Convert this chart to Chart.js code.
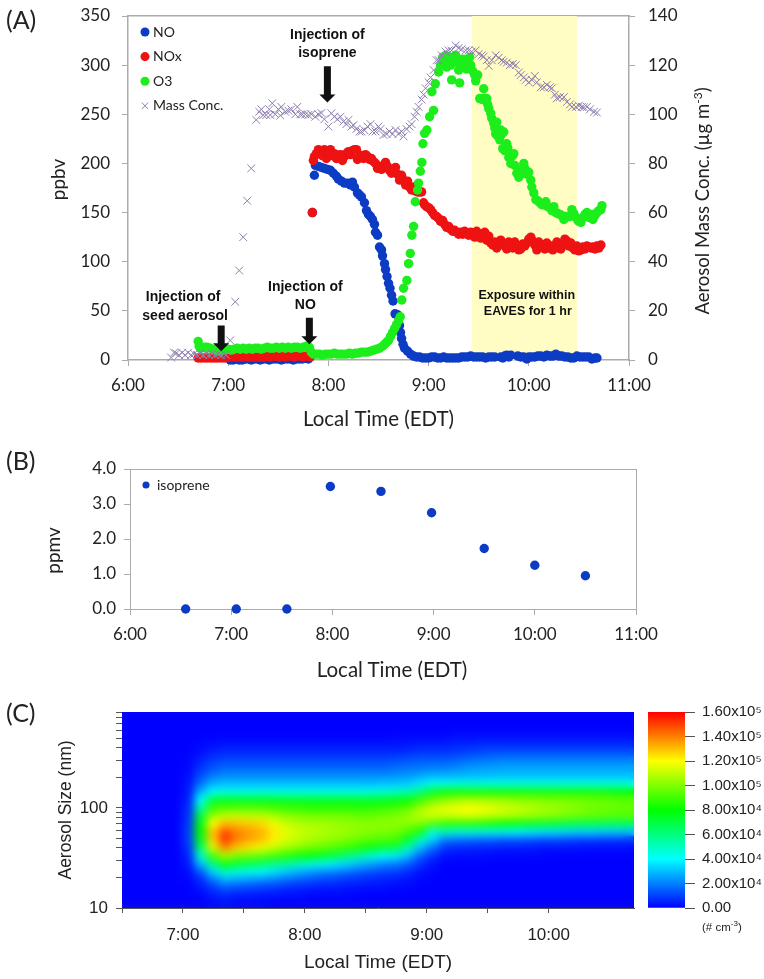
<!DOCTYPE html>
<html>
<head>
<meta charset="utf-8">
<title>Chamber experiment</title>
<script src="https://cdn.jsdelivr.net/npm/chart.js@4/dist/chart.umd.js"></script>
<style>
  html, body { margin: 0; padding: 0; background: #fff; }
  #page { position: relative; width: 764px; height: 979px; overflow: hidden; }
  canvas { position: absolute; }
  .panel { position: absolute; left: 6px; font: 25px Lato, sans-serif; color: #222; }
  .vtitle { position: absolute; width: 300px; margin-left: -150px; margin-top: -12px; line-height: 24px; text-align: center; color: #222; white-space: nowrap;
    font: 19px Lato, sans-serif; transform: rotate(-90deg); }
  .vtitle sup { font-size: 12px; line-height: 0; }
  #timeB { position: absolute; left: 242px; top: 657px; width: 300px; text-align: center; font: 20.5px Lato, sans-serif; color: #222; }
  #unitLabel { position: absolute; left: 702px; top: 921px; font: 11.5px "Liberation Sans", sans-serif; color: #222; }
  #unitLabel sup { font-size: 8px; line-height: 0; }
</style>
</head>
<body>
<div id="page">
  <canvas id="chartA" style="left:0;top:0" width="764" height="445"></canvas>
  <canvas id="chartB" style="left:0;top:445px" width="764" height="255"></canvas>
  <canvas id="chartC" style="left:0;top:700px" width="640" height="279"></canvas>
  <canvas id="chartBar" style="left:640px;top:700px" width="124" height="279"></canvas>
  <div class="panel" style="top:4px">(A)</div>
  <div class="panel" style="top:445px">(B)</div>
  <div class="panel" style="top:697px">(C)</div>
  <div class="vtitle" style="left:57px;top:180px">ppbv</div>
  <div class="vtitle" style="left:52px;top:551px">ppmv</div>
  <div class="vtitle" style="left:702px;top:202px;font-size:18.5px">Aerosol Mass Conc. (µg m<sup>-3</sup>)</div>
  <div id="timeB">Local Time (EDT)</div>
  <div id="unitLabel">(# cm<sup>-3</sup>)</div>
</div>
<script>
// panel A, times in decimal hours
var noTimes = [7.02,7.05,7.08,7.11,7.14,7.17,7.20,7.23,7.26,7.29,7.32,7.35,7.38,7.41,7.44,7.47,7.50,7.53,7.56,7.59,7.62,7.65,7.68,7.71,7.74,7.77,7.80,
  7.84,7.86,7.87,7.90,7.93,7.96,7.99,8.02,8.05,8.08,8.10,8.13,8.16,8.19,8.22,8.24,8.26,8.29,8.31,8.33,8.36,8.38,8.40,8.42,8.44,8.46,8.47,8.49,8.51,8.53,8.54,8.56,8.57,8.585,8.60,8.615,8.63,8.645,8.665,8.69,8.71,8.72,8.73,8.745,8.76,8.79,8.82,8.85,8.88,8.91,8.94,8.97,
  9.00,9.03,9.06,9.09,9.12,9.15,9.18,9.21,9.24,9.27,9.30,9.33,9.36,9.39,9.42,9.45,9.48,9.51,9.54,9.57,9.60,9.63,9.66,
  9.72,9.74,9.76,9.78,9.80,9.82,9.89,9.92,9.95,9.98,10.00,10.03,10.06,10.09,10.12,10.15,10.18,10.21,10.24,10.27,10.30,10.33,10.36,10.39,10.42,10.45,10.48,10.51,10.54,10.57,10.60,10.63,10.66,10.68];
var noValues = [0,0,1,0,0,1,1,0,1,1,0,1,1,0,1,1,1,0,1,1,1,0,1,1,1,2,1,
  150,188,198,197,196,195,194,193,190,187,184,182,180,180,178,181,176,170,168,166,160,152,148,146,143,138,130,127,115,112,106,98,92,85,78,73,66,60,47,46,35,28,22,16,12,9,6,4,3,3,2,2,
  2,3,3,2,2,3,2,2,2,2,2,3,3,3,4,3,3,3,3,2,3,3,3,
  3,2,4,5,3,5,4,3,3,1,3,3,3,4,4,3,5,4,4,6,4,4,3,3,2,2,4,3,3,3,3,1,2,2];

var noxTimes = [6.70,6.73,6.76,6.79,6.82,6.85,6.88,6.91,6.94,6.97,7.00,7.03,7.06,7.09,7.12,7.15,7.18,7.21,7.24,7.27,7.30,7.33,7.36,7.39,7.42,7.45,7.48,7.51,7.54,7.57,7.60,7.63,7.66,7.69,7.72,7.75,7.78,7.82,
  7.84,7.85,7.86,7.88,7.90,7.92,7.94,7.96,7.98,8.00,8.02,8.04,8.06,8.08,8.10,8.12,8.14,8.16,8.18,8.20,8.22,8.24,8.26,8.28,8.29,8.31,8.33,8.35,8.37,8.39,8.41,8.43,8.45,8.47,8.49,8.51,8.53,8.55,8.57,8.59,8.61,8.63,8.65,8.67,8.69,8.71,8.73,8.75,8.77,8.79,8.81,8.83,8.85,8.87,8.89,8.91,8.93,
  8.95,8.96,8.98,9.00,9.02,9.04,9.06,9.08,9.10,9.12,9.14,9.16,9.18,9.20,9.22,9.24,9.26,9.28,9.30,9.32,9.34,9.36,9.38,9.40,9.42,9.44,9.46,9.48,9.50,9.52,9.54,9.56,9.58,9.60,9.62,9.64,9.66,9.68,9.70,9.72,9.74,9.76,9.78,9.80,9.82,9.84,9.86,9.88,9.90,9.92,9.94,9.96,9.98,
  10.00,10.02,10.04,10.06,10.08,10.10,10.12,10.14,10.16,10.18,10.20,10.22,10.24,10.26,10.28,10.30,10.32,10.34,10.36,10.38,10.40,10.42,10.44,10.46,10.48,10.50,10.52,10.54,10.56,10.58,10.60,10.62,10.64,10.66,10.68,10.70,10.72];
var noxValues = [2,2,2,2,2,2,2,2,2,2,3,3,3,3,3,3,3,3,3,3,3,3,3,4,3,4,4,3,4,3,4,4,3,4,4,3,4,3,
  150,203,207,210,214,212,208,214,205,212,214,208,210,205,208,209,203,207,210,212,209,213,214,214,204,207,208,205,209,207,204,205,202,200,195,197,194,198,201,197,193,190,193,196,189,183,188,183,178,182,176,173,176,172,171,171,171,
  160,158,156,155,153,150,147,146,144,141,142,138,135,136,133,131,132,130,128,130,128,131,129,127,130,129,125,131,128,124,128,130,122,126,119,117,120,114,118,122,117,118,113,120,118,114,120,116,112,113,118,116,119,
  123,125,121,117,112,120,117,115,113,119,114,116,112,116,120,114,113,118,123,121,116,119,114,112,116,111,112,115,113,116,115,114,115,113,116,114,117];

var o3Times = [6.70,6.71,6.73,6.76,6.79,6.82,6.85,6.88,6.91,6.94,6.97,7.00,7.03,7.06,7.09,7.12,7.15,7.18,7.21,7.24,7.27,7.30,7.33,7.36,7.39,7.42,7.45,7.48,7.51,7.54,7.57,7.60,7.63,7.66,7.69,7.72,7.75,7.78,7.81,
  7.83,7.85,7.88,7.91,7.94,7.97,8.00,8.03,8.06,8.09,8.12,8.15,8.18,8.21,8.24,8.27,8.30,8.33,8.36,8.39,8.42,8.45,8.48,8.51,8.54,8.56,8.58,8.60,8.62,8.64,8.66,8.68,8.70,8.717,
  8.733,8.75,8.783,8.80,8.817,8.833,8.85,8.867,8.89,8.90,8.917,8.933,8.943,8.96,8.983,9.01,9.033,9.05,9.067,9.10,
  9.12,9.14,9.15,9.17,9.18,9.20,9.22,9.23,9.25,9.27,9.28,9.30,9.31,9.33,9.34,9.36,9.38,9.39,9.41,9.42,9.44,9.46,9.47,9.49,9.51,9.52,9.535,9.55,9.56,9.58,9.59,9.60,9.62,9.63,9.65,9.66,9.67,9.68,9.69,9.71,9.72,9.73,9.74,9.75,9.76,9.78,9.79,9.80,9.82,9.84,9.85,9.86,9.88,9.90,9.91,9.93,9.95,9.96,9.98,
  10.00,10.02,10.03,10.05,10.07,10.09,10.11,10.13,10.15,10.17,10.19,10.21,10.23,10.25,10.27,10.29,10.31,10.33,10.35,10.37,10.39,10.41,10.43,10.45,10.47,10.49,10.50,10.52,10.54,10.56,10.58,10.60,10.62,10.64,10.66,10.68,10.70,10.72,10.73];
var o3Values = [19,14,12,13,13,12,11,10,9,10,11,11,10,11,12,11,12,11,12,11,12,12,11,12,13,12,12,13,12,13,12,13,12,13,13,12,13,14,13,
  8,6,6,6,5,6,6,6,7,6,6,6,6,7,6,7,7,8,8,8,9,10,11,12,14,16,18,20,24,28,32,36,40,44,
  61,73,81,98,108.5,127,136,161,173,180,192,201,220,230.6,234,247.5,273,254,281,293,
  300,308,304,310,298,308,300,285,305,310,303,295,282,298,306,303,296,306,308,300,294,290,284,290,266,266,265,276,266,266,260,256,251,246,241,236,230,242,228,224,234,230,215,232,213,220,216,206,200,208,210,198,190,186,188,194,200,195,189,
  191,183,176,170,163,162,160,158,158,161,156,155,152,156,150,149,148,147,143,146,146,146,153,149,145,142,141,140,145,148,150,145,148,143,147,150,152,153,157];

var massTimes = [6.43,6.46,6.48,6.51,6.54,6.57,6.60,6.63,6.66,6.69,6.72,6.75,6.78,6.81,6.84,6.87,6.90,6.93,6.96,6.98,7.02,7.07,7.11,7.15,7.19,7.23,7.28,7.31,7.33,7.35,7.38,7.41,7.42,7.44,
  7.47,7.50,7.52,7.53,7.57,7.60,7.63,7.67,7.69,7.72,7.74,7.77,7.80,7.83,7.87,7.90,7.93,7.96,8.00,8.03,8.06,8.09,8.12,8.15,8.18,8.20,8.23,8.25,8.28,8.31,8.33,8.36,8.39,8.42,8.44,8.47,8.50,8.52,8.55,8.58,8.61,8.64,8.67,8.70,8.73,8.75,8.78,8.81,8.83,8.86,8.88,8.90,8.93,8.95,8.97,
  9.00,9.02,9.05,9.08,9.10,9.13,9.17,9.20,9.23,9.27,9.30,9.33,9.37,9.40,9.43,9.47,9.50,9.53,9.55,9.58,9.60,9.63,9.67,9.70,9.73,9.75,9.78,9.81,9.84,9.87,9.90,9.92,9.95,9.97,
  10.00,10.03,10.06,10.08,10.12,10.15,10.18,10.21,10.23,10.26,10.28,10.31,10.35,10.38,10.41,10.43,10.47,10.50,10.53,10.55,10.58,10.61,10.65,10.68];
var massValues = [1,3,2.7,2,3,2,3,2,2.5,2,2.5,2,2.5,2,2.5,2,2.5,2,2.5,2,8,23.7,36.4,50,64.8,78,97.7,101,102,99.7,99.7,102,99.7,104.5,
  100,102,99.5,103,101,101.5,102,100,103,100,100,100,99.7,100,99,100,100.5,98,95,100.4,99,98,99,97,96,97.7,95,95.6,94,93,93,93.5,95,96,93,93,95,94,91.6,92,93,92,93.6,92,93,91,94,95,96,99,101,103,106,108,110.6,
  113,115,118,122,122,124,125.5,126,126,128,127,126.5,126,126,125.5,126,124.5,124,123.5,122,119.7,122,124,123,122,121.4,121,120,120.5,120,117,116,115,114,
  113,114,115.6,113,111,111,112,111,110.6,108,106.5,107,107,105,104,103,103,103.5,103,102.8,103,102,101,100.7];

// panel B
var isopreneTimes = [6.55,7.05,7.55,7.98,8.48,8.98,9.5,10,10.5];
var isopreneValues = [0,0,0,3.5,3.36,2.75,1.73,1.25,0.95];

// panel C: one row per time cell, values in 10^3 cm-3, from the smallest size bin up
var cellTimes = [6.55,6.65,6.75,6.85,6.95,7.05,7.15,7.25,7.35,7.45,7.55,7.65,7.75,7.85,7.95,8.05,8.15,8.25,8.35,8.45,8.55,8.65,8.75,8.85,8.95,9.05,9.15,9.25,9.35,9.45,9.55,9.65,9.75,9.85,9.95,10.05,10.15,10.25,10.35,10.45,10.55,10.65];
var sizeEdges = [10,12,14.5,17.4,20.9,25.1,30.2,36.3,43.7,52.5,63.1,75.9,91.2,110,132,158,191,229,275,331,398,479,575,692,832,1000];
var sizeTicks = [10,20,30,40,50,60,70,80,90,100,200,300,400,500,600,700,800,900];
var cellValues = [
  [0,0,0,0,0,0,0,0,0,0,0,0,0,0,0,0,0,0,0,0,0,0,0,0,0],
  [0,0,0,0,0,0,0,0,0,0,0,0,0,0,0,0,0,0,0,0,0,0,0,0,0],
  [0,0,0,0,0,0,0,0,0,0,0,0,0,0,0,0,0,0,0,0,0,0,0,0,0],
  [0,0,0,0,0,0,0,0,0,0,0,0,0,0,0,0,0,0,0,0,0,0,0,0,0],
  [0,0,0,0,0,0,0,0,0,0,0,0,0,0,0,0,0,0,0,0,0,0,0,0,0],
  [0,0,0,1,2,4,6,8,10,10,9,8,7,5,4,3,2,1,1,0,0,0,0,0,0],
  [0,1,3,7,14,30,48,64,76,80,78,70,55,40,28,18,12,8,5,2,1,0,0,0,0],
  [1,4,9,18,34,60,90,114,128,130,120,104,88,70,40,28,19,13,9,5,2,0,0,0,0],
  [2,6,14,28,48,80,108,138,152,148,130,110,92,76,42,30,22,16,11,6,3,0,0,0,0],
  [1,4,12,26,44,74,100,128,140,140,130,112,92,74,42,30,22,16,11,6,3,0,0,0,0],
  [1,4,11,24,42,70,98,124,134,136,128,110,92,74,42,30,22,16,11,6,3,0,0,0,0],
  [1,3,10,22,40,66,94,118,130,132,126,110,92,75,42,30,22,16,11,6,3,0,0,0,0],
  [0,3,9,20,36,60,90,112,122,124,118,106,90,75,42,30,22,16,11,6,3,0,0,0,0],
  [0,2,7,17,32,56,86,106,114,116,112,102,88,74,42,30,22,16,11,6,3,0,0,0,0],
  [0,2,6,15,28,50,82,102,110,112,108,100,88,74,42,30,22,16,11,6,3,0,0,0,0],
  [0,1,5,13,25,45,80,98,106,110,106,98,86,74,42,30,22,16,11,6,3,0,0,0,0],
  [0,1,4,11,22,42,76,96,104,108,106,98,86,74,42,30,22,16,11,6,3,0,0,0,0],
  [0,1,4,10,20,38,70,92,102,106,104,98,86,74,42,30,22,16,11,6,3,0,0,0,0],
  [0,1,3,8,18,34,62,88,100,104,103,98,86,74,42,30,22,16,11,6,3,0,0,0,0],
  [0,0,3,7,15,30,55,84,96,102,102,96,86,74,42,30,22,16,11,6,3,0,0,0,0],
  [0,0,2,6,13,26,46,78,94,100,102,96,86,74,43,30,22,16,11,6,3,0,0,0,0],
  [0,0,2,5,11,22,40,72,92,100,102,98,88,75,44,31,22,16,11,6,3,0,0,0,0],
  [0,0,1,4,10,20,38,70,90,98,102,100,90,77,46,31,23,17,12,6,3,1,0,0,0],
  [0,0,1,3,7,15,30,50,76,92,102,104,94,80,50,32,24,18,13,7,3,1,0,0,0],
  [0,0,0,1,3,8,16,30,50,82,100,110,104,88,60,36,26,19,14,8,4,1,0,0,0],
  [0,0,0,0,1,3,8,18,34,46,92,114,112,96,74,42,28,20,14,8,4,1,0,0,0],
  [0,0,0,0,0,0,3,8,20,50,88,112,116,100,82,42,28,20,14,8,4,1,0,0,0],
  [0,0,0,0,0,0,2,6,18,46,86,114,118,104,82,44,28,22,15,9,5,2,0,0,0],
  [0,0,0,0,0,0,2,6,17,45,86,116,120,106,82,44,29,24,17,10,5,2,0,0,0],
  [0,0,0,0,0,0,2,5,16,44,84,114,118,106,82,44,29,25,18,11,6,2,0,0,0],
  [0,0,0,0,0,0,1,5,15,43,82,112,115,105,82,44,30,25,19,12,6,2,0,0,0],
  [0,0,0,0,0,0,1,4,14,42,80,110,112,104,82,44,30,26,20,12,6,2,0,0,0],
  [0,0,0,0,0,0,1,4,14,40,78,108,110,102,82,44,30,26,20,12,6,2,0,0,0],
  [0,0,0,0,0,0,1,4,13,38,76,106,108,102,82,44,30,26,20,12,6,2,0,0,0],
  [0,0,0,0,0,0,1,3,12,37,74,104,106,100,82,44,30,26,20,12,6,2,0,0,0],
  [0,0,0,0,0,0,0,3,12,36,72,102,104,100,82,44,30,26,20,12,6,2,0,0,0],
  [0,0,0,0,0,0,0,3,11,35,70,100,102,99,82,44,30,26,20,12,6,2,0,0,0],
  [0,0,0,0,0,0,0,3,10,34,68,98,100,98,82,44,30,26,20,12,6,2,0,0,0],
  [0,0,0,0,0,0,0,2,10,34,68,96,98,97,82,44,30,26,20,12,6,2,0,0,0],
  [0,0,0,0,0,0,0,2,9,33,66,95,97,96,82,44,30,26,20,12,6,2,0,0,0],
  [0,0,0,0,0,0,0,2,9,33,66,94,96,95,80,44,30,26,20,12,6,2,0,0,0],
  [0,0,0,0,0,0,0,2,8,32,66,94,95,94,80,44,30,26,20,12,6,2,0,0,0]
];
var colorbarTicks = [0,20000,40000,60000,80000,100000,120000,140000,160000];
var colorbarLabels = ['0.00','2.00x10⁴','4.00x10⁴','6.00x10⁴','8.00x10⁴','1.00x10⁵','1.20x10⁵','1.40x10⁵','1.60x10⁵'];
var colorStops = [[0,[0,0,255]],[0.25,[0,255,255]],[0.5,[0,255,0]],[0.75,[255,255,0]],[1,[255,0,0]]];

var axisGray = '#ababab';
var textColor = '#222';
var calibri = 'Lato, sans-serif';
var arial = '"Liberation Sans", sans-serif';

function points(times, values) {
    return times.map(function (t, i) { return { x: t, y: values[i] }; });
}

function hourLabel(v) {
    return Number.isInteger(v) ? v + ':00' : '';
}

// fixes a scale's box so the plot areas land where the reference has them
function boxSize(size) {
    return function (scale) {
        if (scale.isHorizontal()) { scale.height = size; } else { scale.width = size; }
        scale.paddingTop = scale.paddingBottom = scale.paddingLeft = scale.paddingRight = 0;
    };
}

function heatColor(v) {
    var f = Math.min(v / 160, 1);
    for (var i = 1; i < colorStops.length; i++) {
        if (f <= colorStops[i][0]) {
            var a = colorStops[i - 1], b = colorStops[i];
            var k = (f - a[0]) / (b[0] - a[0]);
            return 'rgb(' + a[1].map(function (c, j) { return Math.round(c + (b[1][j] - c) * k); }).join(',') + ')';
        }
    }
}

// text labels and arrows inside panel A, placed in data units
var notes = [
    { text: 'Injection of', t: 7.99, v: 331, size: 14 },
    { text: 'isoprene', t: 7.99, v: 312, size: 14 },
    { text: 'Injection of', t: 6.55, v: 64, size: 14 },
    { text: 'seed aerosol', t: 6.57, v: 45, size: 14 },
    { text: 'Injection of', t: 7.77, v: 74, size: 14 },
    { text: 'NO', t: 7.77, v: 56, size: 14 },
    { text: 'Exposure within', t: 9.98, v: 66, size: 12.5 },
    { text: 'EAVES for 1 hr', t: 9.99, v: 49, size: 12.5 }
];
var arrows = [
    { t: 7.99, top: 299, tip: 262 },
    { t: 6.93, top: 35, tip: 9 },
    { t: 7.81, top: 43, tip: 16 }
];
var exposure = { from: 9.43, to: 10.48 };

var panelAExtras = {
    id: 'panelAExtras',
    beforeDatasetsDraw: function (chart) {
        var c = chart.ctx, x = chart.scales.x, area = chart.chartArea;
        c.save();
        c.fillStyle = '#fffcc4';
        c.fillRect(x.getPixelForValue(exposure.from), area.top, x.getPixelForValue(exposure.to) - x.getPixelForValue(exposure.from), area.bottom - area.top);
        c.restore();
    },
    afterDatasetsDraw: function (chart) {
        var c = chart.ctx, x = chart.scales.x, y = chart.scales.y;
        c.save();
        c.fillStyle = '#111';
        arrows.forEach(function (a) {
            var px = x.getPixelForValue(a.t), top = y.getPixelForValue(a.top), tip = y.getPixelForValue(a.tip);
            c.beginPath();
            c.moveTo(px - 3.5, top);
            c.lineTo(px + 3.5, top);
            c.lineTo(px + 3.5, tip - 8);
            c.lineTo(px + 8, tip - 8);
            c.lineTo(px, tip);
            c.lineTo(px - 8, tip - 8);
            c.lineTo(px - 3.5, tip - 8);
            c.closePath();
            c.fill();
        });
        c.textAlign = 'center';
        c.textBaseline = 'middle';
        notes.forEach(function (n) {
            c.font = 'bold ' + n.size + 'px ' + arial;
            c.fillText(n.text, x.getPixelForValue(n.t), y.getPixelForValue(n.v));
        });
        c.restore();
    }
};

// the legend inside the plot has no offset option, so it is moved before it draws
function legendOffset(dx, dy) {
    return {
        id: 'legendOffset',
        beforeDraw: function (chart) {
            chart.legend.left = chart.chartArea.left + dx;
            chart.legend.top = chart.chartArea.top + dy;
        }
    };
}

// softens the cell edges, the reference is a smoothed contour
var softenCells = {
    id: 'softenCells',
    afterDatasetsDraw: function (chart) {
        var c = chart.ctx, a = chart.chartArea;
        var copy = document.createElement('canvas');
        copy.width = chart.canvas.width;
        copy.height = chart.canvas.height;
        copy.getContext('2d').drawImage(chart.canvas, 0, 0);
        c.save();
        c.beginPath();
        c.rect(a.left, a.top, a.right - a.left, a.bottom - a.top);
        c.clip();
        c.filter = 'blur(4px)';
        c.drawImage(copy, 0, 0);
        c.restore();
    }
};

function dotSet(label, times, values, color, order) {
    return {
        label: label, data: points(times, values), order: order, clip: false,
        pointStyle: 'circle', pointRadius: 4.7, pointBackgroundColor: color, pointBorderColor: color, pointBorderWidth: 0,
        backgroundColor: color, borderColor: color, showLine: false
    };
}

function byDatasetIndex(a, b) {
    return a.datasetIndex - b.datasetIndex;
}

new Chart(document.getElementById('chartA'), {
    type: 'scatter',
    data: {
        datasets: [
            dotSet('NO', noTimes, noValues, '#0d3cc4', 3),
            dotSet('NOx', noxTimes, noxValues, '#ee1212', 2),
            dotSet('O3', o3Times, o3Values, '#1cee1c', 1),
            {
                label: 'Mass Conc.', data: points(massTimes, massValues), yAxisID: 'yMass', order: 0, clip: false,
                pointStyle: 'crossRot', pointRadius: 5.5, pointBorderWidth: 1, pointBorderColor: '#8d7fae', borderColor: '#8d7fae', backgroundColor: '#8d7fae', showLine: false
            }
        ]
    },
    options: {
        responsive: false, animation: false,
        layout: { autoPadding: false },
        plugins: {
            tooltip: { enabled: false },
            legend: {
                position: 'chartArea', align: 'start',
                labels: { usePointStyle: true, sort: byDatasetIndex, boxWidth: 2, boxHeight: 6.4, padding: 10.6, color: textColor, font: { family: calibri, size: 14 } }
            }
        },
        scales: {
            x: {
                type: 'linear', min: 6, max: 11, afterFit: boxSize(85),
                ticks: { stepSize: 1, callback: hourLabel, color: textColor, padding: 9, maxRotation: 0, font: { family: calibri, size: 17 } },
                grid: { display: true, drawOnChartArea: false, tickLength: 6, color: axisGray },
                border: { color: axisGray, width: 1.5 },
                title: { display: true, text: 'Local Time (EDT)', color: textColor, padding: { top: 0, bottom: 13 }, font: { family: calibri, size: 20.5 } }
            },
            xTop: {
                type: 'linear', position: 'top', min: 6, max: 11, afterFit: boxSize(16),
                ticks: { display: false }, grid: { display: false }, border: { color: axisGray, width: 1.5 }
            },
            y: {
                min: 0, max: 350, afterFit: boxSize(128),
                ticks: { stepSize: 50, color: textColor, padding: 12, font: { family: calibri, size: 17 } },
                grid: { display: true, drawOnChartArea: false, tickLength: 6, color: axisGray },
                border: { color: axisGray, width: 1.5 }
            },
            yMass: {
                position: 'right', min: 0, max: 140, afterFit: boxSize(135),
                ticks: { stepSize: 20, color: textColor, padding: 13, font: { family: calibri, size: 17 } },
                grid: { display: true, drawOnChartArea: false, tickLength: 6, color: axisGray },
                border: { color: axisGray, width: 1.5 }
            }
        }
    },
    plugins: [panelAExtras, legendOffset(5.4, -1.6)]
});

new Chart(document.getElementById('chartB'), {
    type: 'scatter',
    data: {
        datasets: [dotSet('isoprene', isopreneTimes, isopreneValues, '#0d3cc4', 0)]
    },
    options: {
        responsive: false, animation: false,
        layout: { autoPadding: false },
        plugins: {
            tooltip: { enabled: false },
            legend: {
                position: 'chartArea', align: 'start',
                labels: { usePointStyle: true, boxWidth: 8, boxHeight: 5, padding: 7.6, color: textColor, font: { family: calibri, size: 14 } }
            }
        },
        scales: {
            x: {
                type: 'linear', min: 6, max: 11, afterFit: boxSize(91),
                ticks: { stepSize: 1, callback: hourLabel, color: textColor, padding: 9, maxRotation: 0, font: { family: calibri, size: 17 } },
                grid: { display: true, drawOnChartArea: false, tickLength: 6, color: axisGray },
                border: { color: axisGray }
            },
            xTop: {
                type: 'linear', position: 'top', min: 6, max: 11, afterFit: boxSize(24),
                ticks: { display: false }, grid: { display: false }, border: { color: axisGray }
            },
            y: {
                min: 0, max: 4, afterFit: boxSize(130),
                ticks: { stepSize: 1, callback: function (v) { return v.toFixed(1); }, color: textColor, padding: 8, font: { family: calibri, size: 17 } },
                grid: { display: true, drawOnChartArea: false, tickLength: 6, color: axisGray },
                border: { color: axisGray }
            },
            yRight: {
                position: 'right', min: 0, max: 4, afterFit: boxSize(128),
                ticks: { display: false }, grid: { display: false }, border: { color: axisGray }
            }
        }
    },
    plugins: [legendOffset(4.4, 1.4)]
});

// one floating bar per cell, one dataset per size bin
var cellDatasets = sizeEdges.slice(0, -1).map(function (lo, r) {
    return {
        data: cellTimes.map(function (t) { return { x: t, y: [lo, sizeEdges[r + 1]] }; }),
        backgroundColor: cellValues.map(function (col) { return heatColor(col[r]); }),
        barThickness: 13,
        grouped: false,
        borderWidth: 0
    };
});

new Chart(document.getElementById('chartC'), {
    type: 'bar',
    data: { datasets: cellDatasets },
    options: {
        responsive: false, animation: false,
        layout: { autoPadding: false, padding: { right: 6 } },
        plugins: { legend: { display: false }, tooltip: { enabled: false } },
        scales: {
            x: {
                type: 'linear', min: 6.5, max: 10.7, offset: false, afterFit: boxSize(71),
                afterBuildTicks: function (scale) { scale.ticks = scale.ticks.filter(function (t) { return t.value !== 10.7; }); },
                ticks: { stepSize: 0.5, autoSkip: false, callback: hourLabel, color: textColor, padding: 12, maxRotation: 0, font: { family: arial, size: 17 } },
                grid: { display: true, offset: false, drawOnChartArea: false, tickLength: 5, color: '#555' },
                border: { color: '#555' },
                title: { display: true, text: 'Local Time (EDT)', color: textColor, padding: { top: 0, bottom: 5 }, font: { family: arial, size: 19 } }
            },
            xTop: {
                type: 'linear', position: 'top', min: 6.5, max: 10.7, afterFit: boxSize(12),
                ticks: { display: false }, grid: { display: false }, border: { display: false }
            },
            y: {
                type: 'logarithmic', min: 10, max: 912, afterFit: boxSize(122),
                afterBuildTicks: function (scale) { scale.ticks = sizeTicks.map(function (v) { return { value: v }; }); },
                ticks: { autoSkip: false, callback: function (v) { return v === 10 || v === 100 ? String(v) : ''; }, color: textColor, padding: 8, font: { family: arial, size: 17 } },
                grid: { display: true, drawOnChartArea: false, tickLength: 6, color: '#555' },
                border: { color: '#555' },
                title: { display: true, text: 'Aerosol Size (nm)', color: textColor, padding: { top: 56, bottom: 0 }, font: { family: arial, size: 17.5 } }
            }
        }
    },
    plugins: [softenCells]
});

new Chart(document.getElementById('chartBar'), {
    type: 'bar',
    data: {
        labels: ['# cm-3'],
        datasets: [{
            data: [[colorbarTicks[0], colorbarTicks[colorbarTicks.length - 1]]],
            borderWidth: 0,
            barPercentage: 1,
            categoryPercentage: 1,
            backgroundColor: function (context) {
                var area = context.chart.chartArea;
                if (!area) { return '#0000ff'; }
                var g = context.chart.ctx.createLinearGradient(0, area.bottom, 0, area.top);
                colorStops.forEach(function (s) { g.addColorStop(s[0], 'rgb(' + s[1].join(',') + ')'); });
                return g;
            }
        }]
    },
    options: {
        responsive: false, animation: false,
        layout: { autoPadding: false, padding: { left: 8, top: 12, bottom: 71 } },
        plugins: { legend: { display: false }, tooltip: { enabled: false } },
        scales: {
            x: { display: false },
            y: {
                position: 'right', min: 0, max: 160000, afterFit: boxSize(79),
                afterBuildTicks: function (scale) { scale.ticks = colorbarTicks.map(function (v) { return { value: v }; }); },
                ticks: { autoSkip: false, callback: function (v) { return colorbarLabels[colorbarTicks.indexOf(v)]; }, color: textColor, padding: 7, font: { family: arial, size: 15 } },
                grid: { display: true, drawOnChartArea: false, tickLength: 10, color: '#555' },
                border: { display: false }
            }
        }
    }
});
</script>
</body>
</html>
